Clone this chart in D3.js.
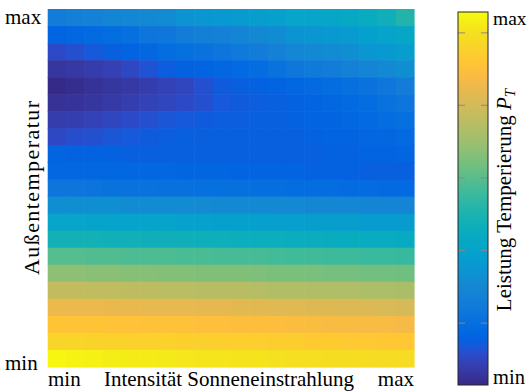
<!DOCTYPE html>
<html>
<head>
<meta charset="utf-8">
<script src="https://cdn.jsdelivr.net/npm/d3@7"></script>
<style>
  body { margin: 0; background: #fff; }
  text { font-family: "Liberation Serif", "Times New Roman", serif; fill: #000; }
</style>
</head>
<body>
<div id="chart"></div>
<script>

// columns: solar intensity min -> max, rows: outside temperature max (top) -> min (bottom)
const solarSteps = d3.range(20);
const tempSteps = d3.range(21);

// normalised power P_T (0 = min, 1 = max)
const powerRows = [
  [0.22,0.23,0.24,0.25,0.26,0.27,0.28,0.30,0.31,0.32,0.33,0.34,0.35,0.37,0.37,0.38,0.39,0.41,0.43,0.47],
  [0.13,0.14,0.15,0.16,0.17,0.19,0.20,0.22,0.23,0.24,0.25,0.27,0.28,0.30,0.31,0.32,0.33,0.35,0.36,0.38],
  [0.08,0.09,0.105,0.12,0.13,0.14,0.16,0.17,0.18,0.19,0.21,0.22,0.24,0.26,0.27,0.28,0.29,0.31,0.32,0.34],
  [0.03,0.035,0.045,0.055,0.075,0.095,0.115,0.125,0.13,0.14,0.15,0.16,0.18,0.20,0.21,0.22,0.24,0.25,0.27,0.29],
  [0.00,0.01,0.02,0.03,0.035,0.045,0.06,0.07,0.09,0.11,0.12,0.125,0.13,0.14,0.15,0.16,0.17,0.18,0.20,0.22],
  [0.02,0.025,0.03,0.04,0.05,0.06,0.07,0.08,0.09,0.105,0.11,0.115,0.12,0.125,0.13,0.14,0.15,0.16,0.18,0.19],
  [0.045,0.05,0.06,0.07,0.08,0.09,0.10,0.105,0.11,0.115,0.115,0.12,0.12,0.125,0.13,0.13,0.14,0.15,0.16,0.17],
  [0.075,0.085,0.09,0.10,0.105,0.11,0.115,0.12,0.12,0.12,0.12,0.12,0.12,0.12,0.125,0.13,0.13,0.14,0.14,0.15],
  [0.13,0.125,0.125,0.125,0.12,0.12,0.12,0.12,0.12,0.12,0.12,0.12,0.12,0.12,0.12,0.125,0.125,0.13,0.13,0.135],
  [0.14,0.14,0.14,0.14,0.14,0.14,0.14,0.135,0.135,0.135,0.13,0.13,0.13,0.13,0.125,0.125,0.125,0.12,0.12,0.12],
  [0.19,0.19,0.185,0.18,0.18,0.18,0.175,0.175,0.17,0.17,0.17,0.165,0.165,0.16,0.16,0.16,0.155,0.155,0.15,0.15],
  [0.29,0.29,0.285,0.285,0.28,0.28,0.28,0.275,0.275,0.27,0.27,0.27,0.265,0.265,0.26,0.26,0.26,0.255,0.255,0.25],
  [0.37,0.37,0.365,0.365,0.36,0.36,0.36,0.355,0.355,0.35,0.35,0.35,0.345,0.345,0.34,0.34,0.34,0.335,0.335,0.33],
  [0.44,0.44,0.44,0.435,0.435,0.43,0.43,0.43,0.425,0.425,0.42,0.42,0.42,0.415,0.415,0.41,0.41,0.405,0.405,0.40],
  [0.55,0.55,0.545,0.545,0.54,0.54,0.54,0.535,0.535,0.53,0.53,0.53,0.525,0.52,0.52,0.515,0.515,0.51,0.51,0.505],
  [0.63,0.63,0.625,0.625,0.62,0.62,0.615,0.615,0.61,0.61,0.61,0.605,0.60,0.60,0.60,0.595,0.595,0.59,0.59,0.585],
  [0.72,0.72,0.715,0.715,0.71,0.71,0.705,0.705,0.70,0.70,0.70,0.695,0.69,0.69,0.69,0.685,0.685,0.68,0.68,0.675],
  [0.80,0.80,0.80,0.795,0.795,0.79,0.79,0.79,0.785,0.785,0.78,0.78,0.775,0.775,0.77,0.77,0.765,0.765,0.76,0.755],
  [0.86,0.86,0.86,0.855,0.855,0.85,0.85,0.85,0.845,0.845,0.84,0.84,0.84,0.835,0.835,0.83,0.83,0.825,0.825,0.82],
  [0.91,0.91,0.905,0.905,0.90,0.90,0.90,0.895,0.895,0.89,0.89,0.89,0.885,0.885,0.88,0.88,0.875,0.875,0.87,0.87],
  [0.99,0.985,0.98,0.975,0.97,0.97,0.965,0.96,0.955,0.955,0.95,0.95,0.945,0.94,0.94,0.935,0.935,0.93,0.93,0.93]
];

// colorbar tick marks (no labels except min/max)
const cbTicks = [0.166, 0.361, 0.555, 0.75, 0.944];

// parula (64 steps)
const parula = [
[0.2081,0.1663,0.5292],[0.2116,0.1898,0.5777],[0.2123,0.2138,0.6270],[0.2081,0.2386,0.6771],
[0.1959,0.2645,0.7279],[0.1707,0.2919,0.7792],[0.1253,0.3242,0.8303],[0.0591,0.3598,0.8683],
[0.0117,0.3875,0.8820],[0.0060,0.4086,0.8828],[0.0165,0.4266,0.8786],[0.0329,0.4430,0.8720],
[0.0498,0.4586,0.8641],[0.0629,0.4737,0.8554],[0.0723,0.4887,0.8467],[0.0779,0.5040,0.8384],
[0.0793,0.5200,0.8312],[0.0749,0.5375,0.8263],[0.0641,0.5570,0.8240],[0.0488,0.5772,0.8228],
[0.0343,0.5966,0.8199],[0.0265,0.6137,0.8135],[0.0239,0.6287,0.8038],[0.0231,0.6418,0.7913],
[0.0228,0.6535,0.7768],[0.0267,0.6642,0.7607],[0.0384,0.6743,0.7436],[0.0590,0.6838,0.7254],
[0.0843,0.6928,0.7062],[0.1133,0.7015,0.6859],[0.1453,0.7098,0.6646],[0.1801,0.7177,0.6424],
[0.2178,0.7250,0.6193],[0.2586,0.7317,0.5954],[0.3022,0.7376,0.5712],[0.3482,0.7424,0.5473],
[0.3953,0.7459,0.5244],[0.4420,0.7481,0.5033],[0.4871,0.7491,0.4840],[0.5300,0.7491,0.4661],
[0.5709,0.7485,0.4494],[0.6099,0.7473,0.4337],[0.6473,0.7456,0.4188],[0.6834,0.7435,0.4044],
[0.7184,0.7411,0.3905],[0.7525,0.7384,0.3768],[0.7858,0.7356,0.3633],[0.8185,0.7327,0.3498],
[0.8507,0.7299,0.3360],[0.8824,0.7274,0.3217],[0.9139,0.7258,0.3063],[0.9450,0.7261,0.2886],
[0.9739,0.7314,0.2666],[0.9938,0.7455,0.2403],[0.9990,0.7653,0.2164],[0.9955,0.7861,0.1967],
[0.9880,0.8066,0.1794],[0.9789,0.8271,0.1633],[0.9697,0.8481,0.1475],[0.9626,0.8705,0.1309],
[0.9589,0.8949,0.1132],[0.9598,0.9218,0.0948],[0.9661,0.9514,0.0755],[0.9763,0.9831,0.0538]
].map(c => d3.rgb(c[0]*255, c[1]*255, c[2]*255).toString());

const color = d3.scaleLinear()
	.domain(parula.map((c, i) => i / (parula.length - 1)))
	.range(parula)
	.clamp(true);

const width = 528, height = 392;

const svg = d3.select("#chart").append("svg")
	.attr("width", width)
	.attr("height", height);

const x = d3.scaleBand().domain(solarSteps).range([47.7, 414]);
const y = d3.scaleBand().domain(tempSteps).range([9, 367]);

// heatmap cells
const cells = [];
powerRows.forEach((row, r) => row.forEach((v, c) => cells.push({r: r, c: c, v: v})));

svg.append("g")
	.selectAll("rect")
	.data(cells)
	.enter().append("rect")
	.attr("x", d => x(d.c))
	.attr("y", d => y(d.r))
	.attr("width", x.bandwidth() + 0.6)
	.attr("height", y.bandwidth() + 0.6)
	.attr("fill", d => color(d.v));

// axis labels
svg.append("text").attr("x", 5).attr("y", 24).attr("font-size", 21).text("max");
svg.append("text").attr("x", 5).attr("y", 370).attr("font-size", 21).text("min");
svg.append("text")
	.attr("transform", "translate(39,188) rotate(-90)")
	.attr("text-anchor", "middle")
	.attr("font-size", 22)
	.attr("textLength", 174)
	.attr("lengthAdjust", "spacing")
	.text("Außentemperatur");

svg.append("text").attr("x", 48).attr("y", 386).attr("font-size", 21).text("min");
svg.append("text").attr("x", 414).attr("y", 386).attr("text-anchor", "end").attr("font-size", 21).text("max");
svg.append("text")
	.attr("x", 229).attr("y", 386)
	.attr("text-anchor", "middle")
	.attr("font-size", 21)
	.text("Intensität Sonneneinstrahlung");

// colorbar
const cbX = 458, cbW = 30, cbTop = 12, cbBottom = 385;
const cbScale = d3.scaleLinear().domain([0, 1]).range([cbBottom, cbTop]);

const defs = svg.append("defs");
const grad = defs.append("linearGradient")
	.attr("id", "cbgrad")
	.attr("x1", 0).attr("y1", 1).attr("x2", 0).attr("y2", 0);
grad.selectAll("stop")
	.data(parula)
	.enter().append("stop")
	.attr("offset", (d, i) => i / (parula.length - 1))
	.attr("stop-color", d => d);

svg.append("rect")
	.attr("x", cbX).attr("y", cbTop)
	.attr("width", cbW).attr("height", cbBottom - cbTop)
	.attr("fill", "url(#cbgrad)");

const tk = svg.append("g");
cbTicks.forEach(function(t) {
	tk.append("line")
		.attr("x1", cbX).attr("x2", cbX + 7)
		.attr("y1", cbScale(t)).attr("y2", cbScale(t));
	tk.append("line")
		.attr("x1", cbX + cbW - 7).attr("x2", cbX + cbW)
		.attr("y1", cbScale(t)).attr("y2", cbScale(t));
});
tk.selectAll("line").attr("stroke", "#888").attr("stroke-width", 1);

svg.append("rect")
	.attr("x", cbX).attr("y", cbTop)
	.attr("width", cbW).attr("height", cbBottom - cbTop)
	.attr("fill", "none")
	.attr("stroke", "#262626")
	.attr("stroke-width", 1);

svg.append("text").attr("x", 493).attr("y", 25).attr("font-size", 19.5).text("max");
svg.append("text").attr("x", 493).attr("y", 384).attr("font-size", 20.5).text("min");

const cbl = svg.append("text")
	.attr("transform", "translate(511,200) rotate(-90)")
	.attr("text-anchor", "middle")
	.attr("font-size", 21);
cbl.append("tspan").text("Leistung Temperierung ");
cbl.append("tspan").attr("font-style", "italic").text("P");
cbl.append("tspan").attr("font-style", "italic").attr("font-size", 15).attr("dy", 4).text("T");

</script>
</body>
</html>
